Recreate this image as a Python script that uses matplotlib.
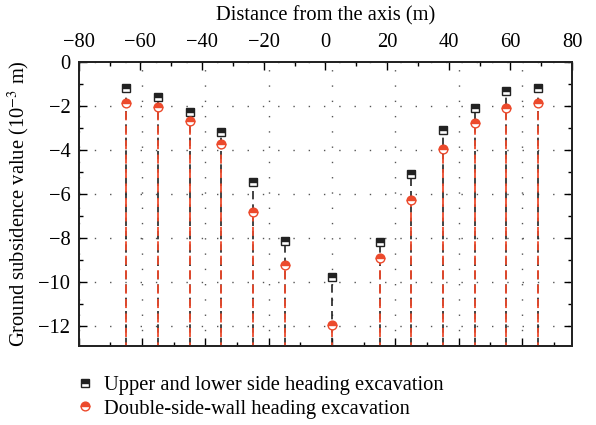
import matplotlib
matplotlib.use("Agg")
import matplotlib.pyplot as plt
from matplotlib.ticker import MultipleLocator
from matplotlib.lines import Line2D

plt.rcParams['font.family'] = ['Liberation Serif', 'DejaVu Serif']
plt.rcParams['mathtext.fontset'] = 'stix'

# distance from the tunnel axis (m)
distance = [-65, -55, -45, -35, -25, -15, 0, 15, 25, 35, 45, 55, 65]
# settlement, 10^-3 m
upper_lower = [-1.2, -1.57, -2.28, -3.2, -5.47, -8.15, -9.78, -8.17, -5.08, -3.08, -2.07, -1.31, -1.19]
double_wall = [-1.84, -2.03, -2.66, -3.72, -6.81, -9.2, -11.97, -8.9, -6.26, -3.96, -2.78, -2.1, -1.87]

labels = ["Upper and lower side heading excavation",
          "Double-side-wall heading excavation"]

red = '#ec4a2c'
black = '#222222'
y_bottom = -12.9
fs = 14.8

fig = plt.figure(figsize=(5.96, 4.25), dpi=100)
ax = fig.add_axes([0.132, 0.186, 0.828, 0.668])

# stems drawn up from the bottom edge to each point
ax.vlines(distance, y_bottom, upper_lower, colors=black, linestyles=(0, (5, 3)), lw=1.2, zorder=2)
ax.vlines(distance, y_bottom, double_wall, colors=red, linestyles=(3, (5, 3)), lw=1.3, zorder=3)

ax.plot(distance, upper_lower, 's', ms=5.5, color=black, mec=black, fillstyle='top',
        markerfacecoloralt='white', mew=1.0, zorder=4)
ax.plot(distance, double_wall, 'o', ms=6.3, color=red, mec=red, fillstyle='top',
        markerfacecoloralt='white', mew=1.0, zorder=5)

# data axis (bottom) runs slightly shorter than the labelled top axis
ax.set_xlim(-80, 75.8)
ax.set_ylim(y_bottom, 0)
ax.xaxis.set_major_locator(MultipleLocator(20))
ax.xaxis.set_minor_locator(MultipleLocator(10))
ax.yaxis.set_major_locator(MultipleLocator(2))
ax.yaxis.set_minor_locator(MultipleLocator(1))
ax.tick_params(which='both', direction='in', top=False, bottom=True, left=True, right=True,
               labelbottom=False, labelsize=fs, width=1.0, pad=6)
ax.tick_params(which='major', length=6)
ax.tick_params(which='minor', length=3)
ax.grid(True, which='major', color='#555555', linestyle=(0, (1, 10)), lw=1.0)

top = ax.twiny()
top.set_xlim(-80, 80)
top.xaxis.set_major_locator(MultipleLocator(20))
top.xaxis.set_minor_locator(MultipleLocator(10))
top.tick_params(which='both', direction='in', top=True, bottom=False,
                labeltop=True, labelsize=fs, width=1.0, pad=7)
top.tick_params(which='major', length=6)
top.tick_params(which='minor', length=3)
top.set_xlabel("Distance from the axis (m)", fontsize=fs, labelpad=9)

for a in (ax, top):
    for s in a.spines.values():
        s.set_linewidth(1.3)
        s.set_color('#222222')

ax.set_ylabel(r"Ground subsidence value (10$^{-3}$ m)", fontsize=fs, labelpad=5)

handles = [
    Line2D([], [], ls='none', marker='s', ms=5.5, color=black, mec=black,
           fillstyle='top', markerfacecoloralt='white'),
    Line2D([], [], ls='none', marker='o', ms=6.3, color=red, mec=red,
           fillstyle='top', markerfacecoloralt='white'),
]
fig.legend(handles, labels, loc='upper left', bbox_to_anchor=(0.105, 0.145),
           frameon=False, fontsize=fs, handlelength=1.0, handletextpad=0.4,
           labelspacing=0.2, borderpad=0.1)

fig.savefig("out.png", dpi=100)
